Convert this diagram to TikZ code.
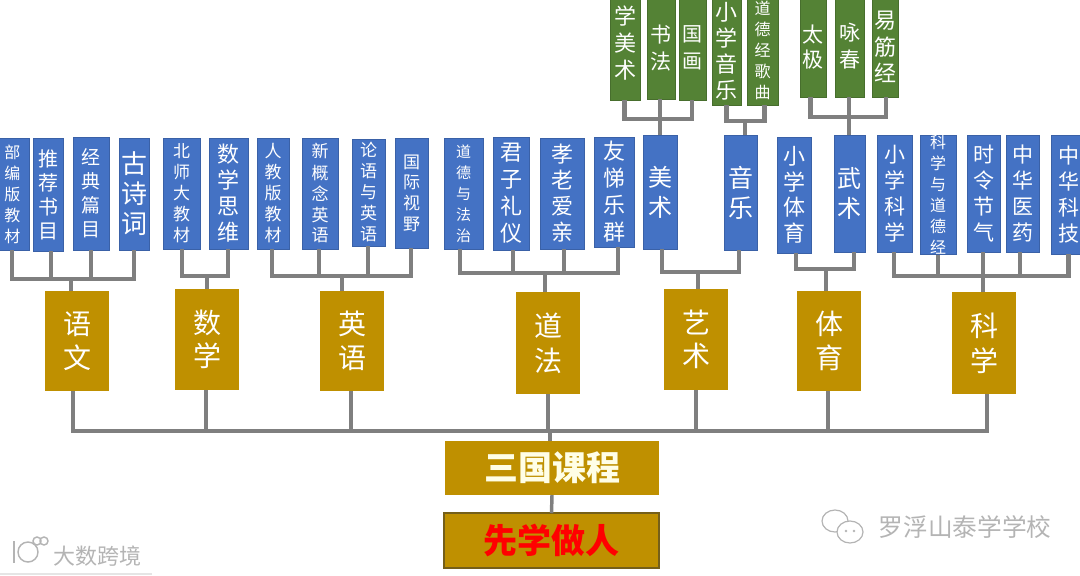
\documentclass[tikz,border=0pt]{standalone}
\usepackage{fontspec}
\setmainfont{Noto Sans CJK SC}
\usetikzlibrary{calc}
\definecolor{bluebg}{HTML}{4472C4}
\definecolor{greenbg}{HTML}{548235}
\definecolor{goldbg}{HTML}{BF9000}
\definecolor{linegray}{HTML}{7F7F7F}
\definecolor{markgray}{HTML}{B4B4B4}
\tikzset{
  x=0.75pt,y=-0.75pt,
  boxbase/.style={inner sep=0pt,outer sep=0pt,text=white,align=center},
  bluebox/.style={boxbase,fill=bluebg,draw=bluebg!85!black,line width=0.4pt},
  greenbox/.style={boxbase,fill=greenbg,draw=greenbg!85!black,line width=0.4pt},
  goldbox/.style={boxbase,fill=goldbg},
  conn/.style={draw=linegray,line width=3.4pt,line cap=butt},
  thinconn/.style={draw=linegray,line width=2.6pt},
  wmark/.style={text=markgray,inner sep=0pt},
  iconline/.style={draw=markgray,line width=0.9pt,fill=white}
}
% style, name, x0, y0, x1, y1, font px, step px, text
\newcommand\bx[9]{%
  \pgfmathsetmacro\bw{(#5-#3)*0.75}%
  \pgfmathsetmacro\bh{(#6-#4)*0.75}%
  \pgfmathsetmacro\fs{#7*0.75}%
  \pgfmathsetmacro\fb{#8*0.75}%
  \node[#1,minimum width=\bw pt,minimum height=\bh pt,
    font=\fontsize{\fs pt}{\fb pt}\selectfont] (#2) at ({(#3+#5)/2},{(#4+#6)/2}) {#9};}
% comb stem: child node, x of stem, bus coordinate
\newcommand\stem[3]{\draw[conn] (#2,0 |- #1.south) |- (#3);}
\begin{document}
\begin{tikzpicture}
\useasboundingbox (0,0) rectangle (1080,575);
\begin{scope}
\clip (0,0) rectangle (1080,575);
% green
\bx{greenbox}{g1}{610}{-40}{640}{100}{22}{26.7}{小\\学\\美\\术}
\bx{greenbox}{g2}{647}{-3}{675}{99}{21}{27}{书\\法}
\bx{greenbox}{g3}{679}{-4}{706.5}{100}{20}{27}{国\\画}
\bx{greenbox}{g4}{712}{-3}{741}{105}{22}{26}{小\\学\\音\\乐}
\bx{greenbox}{g5}{747}{-5}{778}{105}{16}{21}{道\\德\\经\\歌\\曲}
\bx{greenbox}{g6}{800}{-3}{826}{97}{21}{25}{太\\极}
\bx{greenbox}{g7}{835}{-5}{864.5}{97}{21}{27}{咏\\春}
\bx{greenbox}{g8}{872}{-3}{898}{97}{22}{26.5}{易\\筋\\经}
% blue, left to right
\bx{bluebox}{b1}{-4}{138}{29}{250}{16}{21}{部\\编\\版\\教\\材}
\bx{bluebox}{b2}{33}{138}{63}{251}{20}{24}{推\\荐\\书\\目}
\bx{bluebox}{b3}{73}{137}{109}{250}{19}{24}{经\\典\\篇\\目}
\bx{bluebox}{b4}{119}{138}{149}{250}{26}{30}{古\\诗\\词}
\bx{bluebox}{b5}{163}{138}{200}{249}{17}{21}{北\\师\\大\\教\\材}
\bx{bluebox}{b6}{209}{138}{248}{249}{22}{26}{数\\学\\思\\维}
\bx{bluebox}{b7}{257}{138}{289}{249}{17}{21}{人\\教\\版\\教\\材}
\bx{bluebox}{b8}{302}{138}{338}{249}{17}{21}{新\\概\\念\\英\\语}
\bx{bluebox}{b9}{352}{139}{385}{246}{17}{21}{论\\语\\与\\英\\语}
\bx{bluebox}{b10}{395}{138}{428}{248}{17}{20.7}{国\\际\\视\\野}
\bx{bluebox}{b11}{444}{138}{483}{249}{15}{21}{道\\德\\与\\法\\治}
\bx{bluebox}{b12}{493}{137}{529}{250}{22}{27}{君\\子\\礼\\仪}
\bx{bluebox}{b13}{540}{138}{584}{249}{22}{26}{孝\\老\\爱\\亲}
\bx{bluebox}{b14}{594}{137}{634}{247}{22}{27}{友\\悌\\乐\\群}
\bx{bluebox}{b15}{643}{135}{677.5}{249}{24}{30}{美\\术}
\bx{bluebox}{b16}{724}{135}{757.5}{250}{25}{30}{音\\乐}
\bx{bluebox}{b17}{777.5}{137}{811.5}{253}{22}{25.5}{小\\学\\体\\育}
\bx{bluebox}{b18}{834}{135}{865}{252}{24}{30}{武\\术}
\bx{bluebox}{b19}{877}{135}{912}{252}{21}{26}{小\\学\\科\\学}
\bx{bluebox}{b20}{920}{137}{956}{253}{16}{21}{科\\学\\与\\道\\德\\经}
\bx{bluebox}{b21}{967}{135}{1000}{252}{21}{26}{时\\令\\节\\气}
\bx{bluebox}{b22}{1006}{135}{1039}{252}{21}{26}{中\\华\\医\\药}
\bx{bluebox}{b23}{1051}{135}{1086}{254}{21}{26}{中\\华\\科\\技}
% gold subjects
\bx{goldbox}{s1}{45}{291}{109}{391}{28}{34}{语\\文}
\bx{goldbox}{s2}{175}{289}{239}{390}{28}{33}{数\\学}
\bx{goldbox}{s3}{320}{291}{384}{391}{28}{34}{英\\语}
\bx{goldbox}{s4}{516}{292}{580}{394}{28}{35}{道\\法}
\bx{goldbox}{s5}{664}{289}{728}{390}{28}{33}{艺\\术}
\bx{goldbox}{s6}{797}{291}{861}{391}{28}{34}{体\\育}
\bx{goldbox}{s7}{952}{292}{1016}{394}{28}{35}{科\\学}
\bx{goldbox}{root}{445}{441}{659}{495}{34}{40}{\bfseries\color{white!90!yellow}三国课程}
\bx{goldbox}{top}{444}{513}{659}{568}{34}{40}{\bfseries\color{red}先学做人}
\draw[draw=goldbg!60!black!80!gray,line width=1pt] (top.north west) rectangle (top.south east);
% bus coordinates
\coordinate (b1bus) at (71,279);
\coordinate (b2bus) at (207,276);
\coordinate (b3bus) at (342,276);
\coordinate (b4bus) at (545,273);
\coordinate (b5bus) at (698,272);
\coordinate (b6bus) at (826,269);
\coordinate (b7bus) at (983,276);
\coordinate (g1bus) at (660,119);
\coordinate (g2bus) at (745,121);
\coordinate (g3bus) at (849,117);
\coordinate (mainbus) at (550,431);
% combs
\stem{b1}{12}{b1bus}\stem{b2}{51}{b1bus}\stem{b3}{91}{b1bus}\stem{b4}{134}{b1bus}
\draw[conn] (b1bus) -- (b1bus |- s1.north);
\stem{b5}{182}{b2bus}\stem{b6}{228}{b2bus}
\draw[conn] (b2bus) -- (b2bus |- s2.north);
\stem{b7}{272}{b3bus}\stem{b8}{319}{b3bus}\stem{b9}{368}{b3bus}\stem{b10}{411}{b3bus}
\draw[conn] (b3bus) -- (b3bus |- s3.north);
\stem{b11}{460}{b4bus}\stem{b12}{513}{b4bus}\stem{b13}{564}{b4bus}\stem{b14}{618}{b4bus}
\draw[conn] (b4bus) -- (b4bus |- s4.north);
\stem{b15}{662}{b5bus}\stem{b16}{739}{b5bus}
\draw[conn] (b5bus) -- (b5bus |- s5.north);
\stem{b17}{796}{b6bus}\stem{b18}{854}{b6bus}
\draw[conn] (b6bus) -- (b6bus |- s6.north);
\stem{b19}{894}{b7bus}\stem{b20}{938}{b7bus}\stem{b21}{983}{b7bus}\stem{b22}{1020}{b7bus}\stem{b23}{1068.5}{b7bus}
\draw[conn] (b7bus) -- (b7bus |- s7.north);
\stem{g1}{624.5}{g1bus}\stem{g2}{660}{g1bus}\stem{g3}{692}{g1bus}
\draw[conn] (g1bus) -- (g1bus |- b15.north);
\stem{g4}{726.5}{g2bus}\stem{g5}{764.5}{g2bus}
\draw[conn] (g2bus) -- (g2bus |- b16.north);
\stem{g6}{810.6}{g3bus}\stem{g7}{849}{g3bus}\stem{g8}{886}{g3bus}
\draw[conn] (g3bus) -- (g3bus |- b18.north);
\stem{s1}{73}{mainbus}\stem{s2}{206}{mainbus}\stem{s3}{351}{mainbus}\stem{s4}{548}{mainbus}
\stem{s5}{696}{mainbus}\stem{s6}{828}{mainbus}\stem{s7}{987}{mainbus}
\draw[conn] (mainbus) -- (mainbus |- root.north);
\draw[thinconn] (root.south) -- (top.north);
% watermarks
\draw[iconline] (835,521) ellipse (13 and 11);
\draw[iconline] (850,532) ellipse (13 and 11);
\fill[markgray] (846,531) circle (1.3) (854,531) circle (1.3);
\node[wmark,font=\fontsize{18.5pt}{22pt}\selectfont] (wm1) at (965,527) {罗浮山泰学学校};
\draw[draw=markgray,line width=1.1pt] (28,552) circle (10);
\draw[draw=markgray,line width=1.1pt] (37,541) circle (4) (44,541) circle (4);
\draw[draw=markgray,line width=1.1pt] (14,541) -- (14,563);
\node[wmark,font=\fontsize{16.5pt}{20pt}\selectfont] (wm2) at (97,556) {大数跨境};
\draw[draw=black!10,line width=0.8pt] (0,574) -- (152,574);
\end{scope}
\end{tikzpicture}
\end{document}
